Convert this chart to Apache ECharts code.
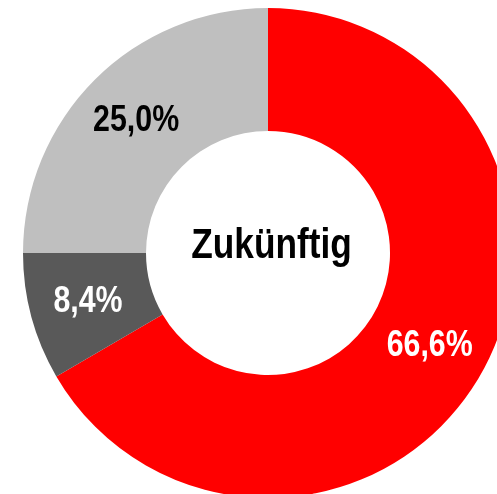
<!DOCTYPE html>
<html>
<head>
<meta charset="utf-8">
<script src="https://cdn.jsdelivr.net/npm/echarts@6/dist/echarts.min.js"></script>
<style>
html,body{margin:0;padding:0;background:#fff;}
#chart{width:497px;height:494px;}
</style>
</head>
<body>
<div id="chart"></div>
<script>
const categories = ['A', 'B', 'C'];
const values = [66.6, 8.4, 25.0];
const labels = ['66,6%', '8,4%', '25,0%'];
const colors = ['#FF0000', '#595959', '#BFBFBF'];
const labelColors = ['#FFFFFF', '#FFFFFF', '#000000'];
const centerText = 'Zukünftig';

const FONT = '"Liberation Sans Narrow", "Arial Narrow", "Liberation Sans", Arial, sans-serif';
const NARROW = 0.82; // emulate Arial Narrow with horizontally condensed Liberation Sans

const chart = echarts.init(document.getElementById('chart'), null, {renderer: 'canvas'});
chart.setOption({
  animation: false,
  backgroundColor: '#ffffff',
  series: [{
    type: 'pie',
    center: [268, 253],
    radius: [122, 245],
    startAngle: 90,
    clockwise: true,
    avoidLabelOverlap: false,
    silent: true,
    data: categories.map((c, i) => ({
      name: c,
      value: values[i],
      itemStyle: {color: colors[i]},
      label: {
        show: true,
        position: 'inside',
        formatter: labels[i],
        color: labelColors[i],
        fontFamily: FONT,
        fontWeight: 'bold',
        fontSize: 37
      }
    })),
    labelLine: {show: false}
  }],
  graphic: [{
    type: 'text',
    x: 271.5,
    y: 246.5,
    scaleX: NARROW,
    style: {
      text: centerText,
      textAlign: 'center',
      textVerticalAlign: 'middle',
      fontFamily: FONT,
      fontWeight: 'bold',
      fontSize: 43,
      fill: '#000000'
    }
  }]
});

// condense the slice labels horizontally (no narrow font installed)
try {
  const data = chart.getModel().getSeriesByIndex(0).getData();
  for (let i = 0; i < data.count(); i++) {
    const el = data.getItemGraphicEl(i);
    const t = el && el.getTextContent && el.getTextContent();
    if (t) {
      t.scaleX = NARROW;
      t.markRedraw();
    }
  }
  chart.getZr().refreshImmediately();
} catch (e) {}
</script>
</body>
</html>
